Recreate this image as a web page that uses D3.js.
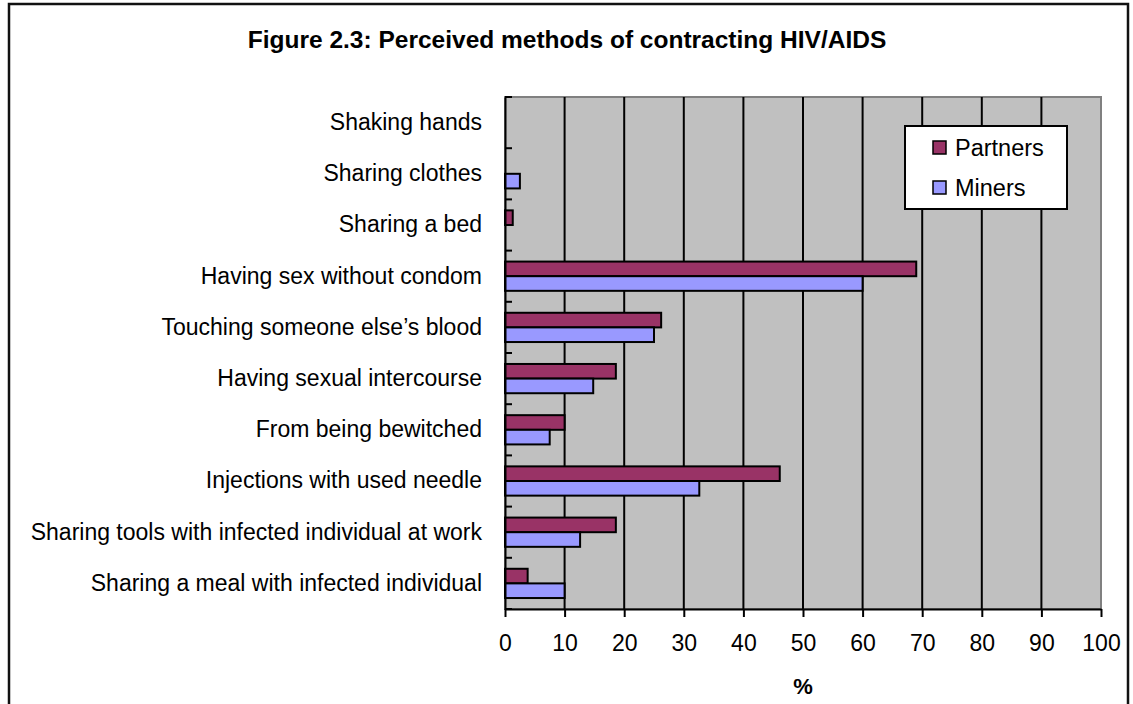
<!DOCTYPE html>
<html>
<head>
<meta charset="utf-8">
<script src="https://cdn.jsdelivr.net/npm/d3@7"></script>
<style>
  html, body { margin: 0; padding: 0; background: #fff; }
  svg { display: block; font-family: "Liberation Sans", Arial, sans-serif; }
</style>
</head>
<body>
<svg id="chart" width="1133" height="704"></svg>
<script>
// Survey answers: share of respondents (%) naming each way of getting HIV/AIDS
const categories = [
  "Shaking hands",
  "Sharing clothes",
  "Sharing a bed",
  "Having sex without condom",
  "Touching someone else\u2019s blood",
  "Having sexual intercourse",
  "From being bewitched",
  "Injections with used needle",
  "Sharing tools with infected individual at work",
  "Sharing a meal with infected individual"
];
const seriesNames = ["Partners", "Miners"];
const partners = [0, 0, 1.3, 69, 26.2, 18.6, 10, 46.1, 18.6, 3.8];
const miners   = [0, 2.5, 0, 60, 25, 14.8, 7.5, 32.6, 12.6, 10];
const xTicks = [0, 10, 20, 30, 40, 50, 60, 70, 80, 90, 100];
const colors = { Partners: "#993366", Miners: "#9999FF" };

const rows = categories.map((c, i) => ({ cat: c, Partners: partners[i], Miners: miners[i] }));

const svg = d3.select("#chart");
const plot = { left: 505, right: 1101, top: 97, bottom: 609 };
const labelSize = 23;

const x = d3.scaleLinear().domain([0, 100]).range([plot.left, plot.right]);
const y = d3.scaleBand().domain(categories).range([plot.top, plot.bottom]).paddingInner(0).paddingOuter(0);
const ySub = d3.scaleBand().domain(seriesNames).range([0, y.bandwidth()]).paddingInner(0).paddingOuter(0.75);

// outer frame (open at the bottom)
svg.append("path")
  .attr("d", "M9,704 V4 H1128 V704")
  .attr("fill", "none")
  .attr("stroke", "#111")
  .attr("stroke-width", 2.5);

// title
svg.append("text")
  .attr("x", 567).attr("y", 48)
  .attr("text-anchor", "middle")
  .attr("font-weight", "bold")
  .attr("font-size", 24.5)
  .text("Figure 2.3: Perceived methods of contracting HIV/AIDS");

// plot background
svg.append("rect")
  .attr("x", plot.left).attr("y", plot.top)
  .attr("width", plot.right - plot.left).attr("height", plot.bottom - plot.top)
  .attr("fill", "#C0C0C0")
  .attr("stroke", "#808080").attr("stroke-width", 2);

// vertical gridlines
svg.append("g").selectAll("line")
  .data(xTicks.filter(t => t > 0 && t < 100))
  .join("line")
  .attr("x1", d => x(d)).attr("x2", d => x(d))
  .attr("y1", plot.top).attr("y2", plot.bottom)
  .attr("stroke", "#000").attr("stroke-width", 2);

// bars
const groups = svg.append("g").selectAll("g")
  .data(rows)
  .join("g")
  .attr("transform", d => `translate(0,${y(d.cat)})`);

groups.selectAll("rect")
  .data(d => seriesNames.map(s => ({ s, v: d[s] })).filter(e => e.v > 0))
  .join("rect")
  .attr("x", x(0))
  .attr("y", d => ySub(d.s))
  .attr("width", d => x(d.v) - x(0))
  .attr("height", ySub.bandwidth())
  .attr("fill", d => colors[d.s])
  .attr("stroke", "#000")
  .attr("stroke-width", 2);

// x axis
const xAxis = svg.append("g")
  .attr("transform", `translate(0,${plot.bottom})`)
  .call(d3.axisBottom(x).tickValues(xTicks).tickSize(8).tickPadding(18).tickSizeOuter(0));
xAxis.select(".domain").attr("stroke", "#000").attr("stroke-width", 2);
xAxis.selectAll(".tick line").attr("stroke", "#000").attr("stroke-width", 2);
xAxis.selectAll(".tick text")
  .attr("font-family", "Liberation Sans, Arial, sans-serif")
  .attr("font-size", labelSize).attr("fill", "#000");

// y axis with category labels
const yAxis = svg.append("g")
  .attr("transform", `translate(${plot.left},0)`)
  .call(d3.axisLeft(y).tickSize(0).tickPadding(23).tickSizeOuter(0));
yAxis.select(".domain").attr("stroke", "#000").attr("stroke-width", 2);
yAxis.selectAll(".tick text")
  .attr("font-family", "Liberation Sans, Arial, sans-serif")
  .attr("font-size", labelSize).attr("fill", "#000");

// category boundary ticks pointing into the plot
const bounds = categories.map(c => y(c)).concat([plot.bottom]);
svg.append("g").selectAll("line")
  .data(bounds)
  .join("line")
  .attr("x1", plot.left).attr("x2", plot.left + 7)
  .attr("y1", d => d).attr("y2", d => d)
  .attr("stroke", "#000").attr("stroke-width", 2);

// x axis title
svg.append("text")
  .attr("x", (plot.left + plot.right) / 2).attr("y", 694)
  .attr("text-anchor", "middle")
  .attr("font-weight", "bold")
  .attr("font-size", 22)
  .text("%");

// legend
const legend = svg.append("g").attr("transform", "translate(905,126)");
legend.append("rect")
  .attr("width", 162).attr("height", 83)
  .attr("fill", "#fff").attr("stroke", "#000").attr("stroke-width", 2);
const items = legend.selectAll("g.item")
  .data(seriesNames)
  .join("g")
  .attr("class", "item")
  .attr("transform", (d, i) => `translate(28,${15 + i * 40})`);
items.append("rect")
  .attr("width", 13).attr("height", 13)
  .attr("fill", d => colors[d]).attr("stroke", "#000").attr("stroke-width", 1.5);
items.append("text")
  .attr("x", 22).attr("y", 7)
  .attr("dy", "0.35em")
  .attr("font-size", 23.5)
  .text(d => d);
</script>
</body>
</html>
